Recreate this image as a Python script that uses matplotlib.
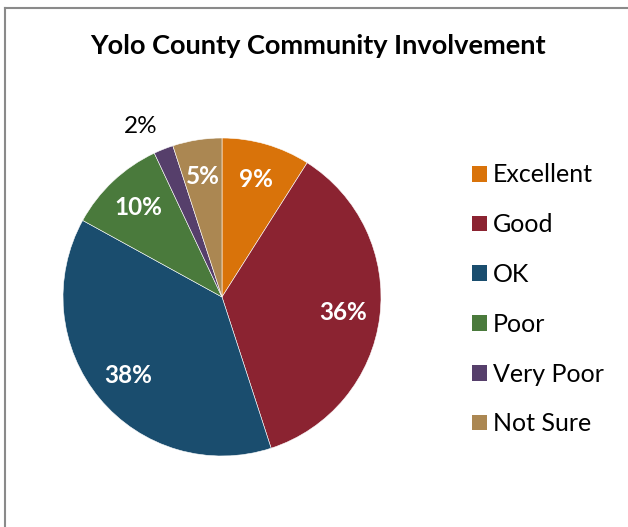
import matplotlib.pyplot as plt
from matplotlib.patches import Patch
from matplotlib.lines import Line2D
import numpy as np

categories = ["Excellent", "Good", "OK", "Poor", "Very Poor", "Not Sure"]
shares = [9, 36, 38, 10, 2, 5]
colors = ["#D9730A", "#8B2331", "#1A4D6E", "#4A7A3C", "#563F6B", "#AB8752"]

plt.rcParams['font.family'] = ['Lato', 'DejaVu Sans']

fig = plt.figure(figsize=(6.28, 5.27), dpi=100)

# pie axes placed in pixels: x 63..381, y 138..456
ax = fig.add_axes([63 / 628, (527 - 456) / 527, 318 / 628, 318 / 527])
wedges, texts, autotexts = ax.pie(
    shares, colors=colors, startangle=90, counterclock=False,
    autopct='%1.0f%%', pctdistance=0.77,
    wedgeprops=dict(edgecolor='white', linewidth=0.4),
    textprops=dict(color='white', fontsize=17.5, fontweight='bold'))
ax.set_aspect('equal')
ax.set_xlim(-1, 1)
ax.set_ylim(-1, 1)

# small slice label sits outside in black
small = categories.index("Very Poor")
w = wedges[small]
ang = np.radians((w.theta1 + w.theta2) / 2)
autotexts[small].set_position((1.22 * np.cos(ang) - 0.06, 1.15 * np.sin(ang)))
autotexts[small].set_color('black')
autotexts[small].set_fontweight('normal')

fig.text(0.507, 0.912, "Yolo County Community Involvement",
         ha='center', va='center', fontsize=19.5, fontweight='bold')

handles = [Patch(facecolor=c, edgecolor='none') for c in colors]
fig.legend(handles, categories, loc='upper left',
           bbox_to_anchor=(459 / 628, 1 - 151 / 527), frameon=False,
           fontsize=18, labelspacing=1.07, handlelength=0.6,
           handleheight=0.6, handletextpad=0.25, borderpad=0)

# chart frame edges visible on the left and top
fig.add_artist(Line2D([4.5 / 628, 4.5 / 628], [0, 1 - 8 / 527],
                      color='#8a8a8a', lw=1.5, transform=fig.transFigure))
fig.add_artist(Line2D([4.5 / 628, 1], [1 - 8 / 527, 1 - 8 / 527],
                      color='#8a8a8a', lw=1.5, transform=fig.transFigure))

fig.savefig("out.png", dpi=100)
